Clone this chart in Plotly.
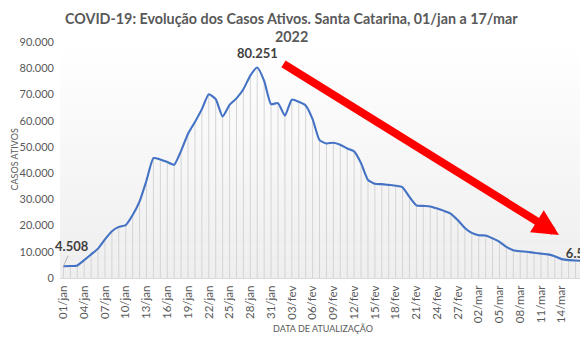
import plotly.graph_objects as go

dates = [
    "01/jan", "02/jan", "03/jan", "04/jan", "05/jan", "06/jan", "07/jan", "08/jan", "09/jan", "10/jan",
    "11/jan", "12/jan", "13/jan", "14/jan", "15/jan", "16/jan", "17/jan", "18/jan", "19/jan", "20/jan",
    "21/jan", "22/jan", "23/jan", "24/jan", "25/jan", "26/jan", "27/jan", "28/jan", "29/jan", "30/jan",
    "31/jan", "01/fev", "02/fev", "03/fev", "04/fev", "05/fev", "06/fev", "07/fev", "08/fev", "09/fev",
    "10/fev", "11/fev", "12/fev", "13/fev", "14/fev", "15/fev", "16/fev", "17/fev", "18/fev", "19/fev",
    "20/fev", "21/fev", "22/fev", "23/fev", "24/fev", "25/fev", "26/fev", "27/fev", "28/fev", "01/mar",
    "02/mar", "03/mar", "04/mar", "05/mar", "06/mar", "07/mar", "08/mar", "09/mar", "10/mar", "11/mar",
    "12/mar", "13/mar", "14/mar", "15/mar", "16/mar", "17/mar",
]

casos_ativos = [
    4508, 4550, 4800, 6800, 9000, 11200, 14700, 17800, 19500, 20200,
    24000, 29200, 37200, 45700, 45200, 44200, 43200, 48500, 55000, 59500,
    64400, 70100, 68200, 61600, 66000, 68500, 72000, 77200, 80251, 75200,
    66300, 66700, 61900, 68000, 67200, 65800, 60600, 52600, 51300, 51600,
    50800, 49400, 48300, 43800, 37400, 35900, 35800, 35500, 35200, 34600,
    30900, 27700, 27500, 27300, 26500, 25600, 24500, 22000, 19100, 17200,
    16300, 16200, 15100, 13800, 11900, 10600, 10200, 10000, 9600, 9300,
    9000, 8300, 7200, 6800, 6700, 6521,
]

y_ticks = [0, 10000, 20000, 30000, 40000, 50000, 60000, 70000, 80000, 90000]

title_line1 = "COVID-19: Evolução dos Casos Ativos. Santa Catarina, 01/jan a 17/mar"
title_line2 = "2022"

idx = list(range(len(dates)))
tick_idx = idx[::3]
tick_txt = dates[::3]

FONT = "Lato"
GRAY = "#595959"
LBL = dict(family=FONT, size=13, color="#404040", weight="bold")

fig = go.Figure()

# drop lines
fig.add_trace(go.Scatter(
    x=idx, y=casos_ativos, mode="markers",
    marker=dict(size=1, color="rgba(0,0,0,0)"),
    error_y=dict(type="data", symmetric=False, array=[0] * len(idx),
                 arrayminus=casos_ativos, thickness=1, width=0, color="#d4d4d4"),
    hoverinfo="skip", showlegend=False,
))

# main line
fig.add_trace(go.Scatter(
    x=idx, y=casos_ativos, mode="lines",
    line=dict(color="#4472C4", width=2.1, shape="spline", smoothing=0.5),
    showlegend=False,
))

# last-point label (clipped by plot edge like the reference)
last = len(idx) - 1
fig.add_trace(go.Scatter(
    x=[idx[last]], y=[casos_ativos[last]], mode="text",
    text=[f"{casos_ativos[last]:,}".replace(",", ".")],
    textposition="top center", textfont=LBL,
    cliponaxis=True, showlegend=False, hoverinfo="skip",
))

# background gradient in plot area
n_bands = 30
for k in range(n_bands):
    t = k / (n_bands - 1)
    c = int(round(255 - t * 17))
    fig.add_shape(type="rect", xref="paper", yref="paper",
                  x0=0, x1=1, y0=1 - (k + 1) / n_bands, y1=1 - k / n_bands,
                  fillcolor=f"rgb({c},{c},{c})", line=dict(width=0), layer="below")

# data labels
fig.add_annotation(x=0, y=casos_ativos[0], text=f"{casos_ativos[0]:,}".replace(",", "."),
                   showarrow=True, arrowhead=0, arrowwidth=0.8, arrowcolor="#a6a6a6",
                   ax=9, ay=-20, font=LBL)
peak = casos_ativos.index(max(casos_ativos))
fig.add_annotation(x=peak, y=casos_ativos[peak], text=f"{casos_ativos[peak]:,}".replace(",", "."),
                   showarrow=False, yshift=15, font=LBL)

# red trend arrow
fig.add_annotation(xref="paper", yref="paper", x=0.9596, y=0.1822, text="",
                   showarrow=True, arrowhead=2, arrowsize=0.65, arrowwidth=8,
                   arrowcolor="#FF0000", ax=-277, ay=-172, axref="pixel", ayref="pixel")

# title (two lines)
fig.add_annotation(xref="paper", yref="paper", x=(291 - 60) / 520, y=(278 - 18) / 236,
                   yanchor="middle", text=title_line1, showarrow=False,
                   font=dict(family=FONT, size=14.3, color=GRAY, weight="bold"))
fig.add_annotation(xref="paper", yref="paper", x=(291 - 60) / 520, y=(278 - 36) / 236,
                   yanchor="middle", text=title_line2, showarrow=False,
                   font=dict(family=FONT, size=14.3, color=GRAY, weight="bold"))

# axis titles
fig.add_annotation(xref="paper", yref="paper", x=(6 - 60) / 520, y=0.5, text="CASOS ATIVOS",
                   textangle=-90, showarrow=False, font=dict(family=FONT, size=9, color=GRAY))
fig.add_annotation(xref="paper", yref="paper", x=0.506, y=(278 - 328) / 236, yanchor="middle",
                   text="DATA DE ATUALIZAÇÃO", showarrow=False,
                   font=dict(family=FONT, size=9, color=GRAY))

fig.update_layout(
    width=580, height=352,
    margin=dict(l=60, r=0, t=42, b=74),
    paper_bgcolor="white", plot_bgcolor="white",
    separators=",.",
    font=dict(family=FONT, color=GRAY),
)
fig.update_xaxes(range=[-0.5, 74.64], tickvals=tick_idx, ticktext=tick_txt, tickangle=-90,
                 tickfont=dict(family=FONT, size=11.5, color=GRAY), showgrid=False,
                 showline=True, linecolor="#d9d9d9", linewidth=1, zeroline=False, ticks="",
                 ticklabelstandoff=2)
fig.update_yaxes(range=[0, 90000], tickvals=y_ticks, tickformat=",d", showgrid=False,
                 zeroline=False, showline=False, ticks="", ticklabelstandoff=5,
                 tickfont=dict(family=FONT, size=11, color=GRAY))

fig.write_html("out.html")
